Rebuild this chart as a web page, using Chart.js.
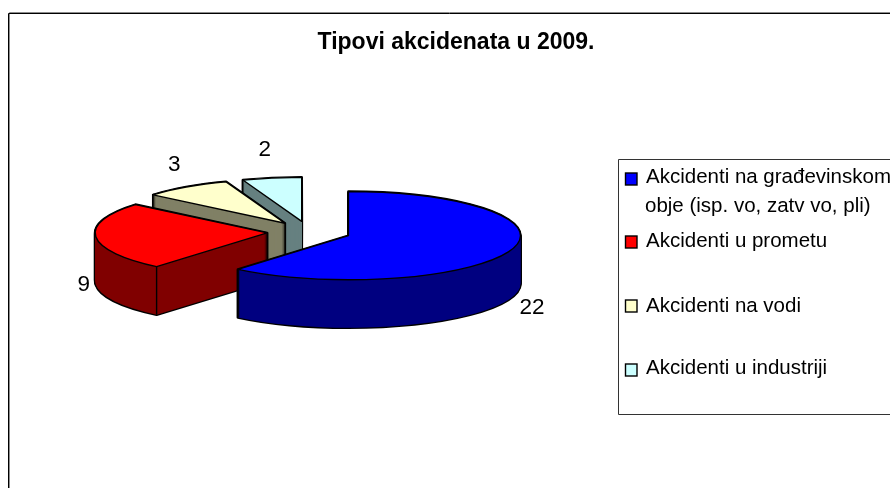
<!DOCTYPE html>
<html>
<head>
<meta charset="utf-8">
<style>html,body{margin:0;padding:0;background:#fff}#wrap{width:890px;height:488px;position:relative}</style>
<script src="https://cdn.jsdelivr.net/npm/chart.js@4/dist/chart.umd.min.js"></script>
</head>
<body>
<div id="wrap"><canvas id="c" width="890" height="488"></canvas></div>
<script>
const chartTitle = 'Tipovi akcidenata u 2009.';
const categories = [
  ['Akcidenti na građevinskom', 'obje (isp. vo, zatv vo, pli)'],
  'Akcidenti u prometu',
  'Akcidenti na vodi',
  'Akcidenti u industriji'
];
const accidents = [22, 9, 3, 2];

const topColors  = ['#0000FF', '#FF0000', '#FFFFCC', '#CCFFFF'];
const sideColors = ['#000080', '#800000', '#808066', '#668080'];

const FONT = '"Liberation Sans", Arial, sans-serif';
const view = { cx: 309, cy: 232, tilt: 0.256, depth: 48, explode: 42 };
const labelNudges = [[22, 57], [-12, 48], [-12, -22], [-7, -28]];
const legendBox = { left: 618.5, top: 159.5, bottom: 414.5, right: 900 };
const legendRows = [
  { swatchY: 173, baselines: [183, 212] },
  { swatchY: 236, baselines: [247] },
  { swatchY: 300, baselines: [312] },
  { swatchY: 364, baselines: [374] }
];

function sliceCenter(arc, dy) {
  const mid = (arc.startAngle + arc.endAngle) / 2;
  return {
    x: view.cx + Math.cos(mid) * view.explode,
    y: view.cy + Math.sin(mid) * view.explode * view.tilt + dy
  };
}

function slicePath(ctx, arc, dy) {
  const c = sliceCenter(arc, dy), r = arc.outerRadius;
  ctx.beginPath();
  ctx.moveTo(c.x, c.y);
  ctx.ellipse(c.x, c.y, r, r * view.tilt, 0, arc.startAngle, arc.endAngle);
  ctx.closePath();
  return c;
}

const pie3d = {
  id: 'pie3d',
  beforeDatasetsDraw(chart) {
    const ctx = chart.ctx, arcs = chart.getDatasetMeta(0).data, k = view.tilt, D = view.depth;
    const drawFace = (arc, dy) => {
      const c = sliceCenter(arc, dy);
      ctx.save();
      ctx.translate(c.x, c.y);
      ctx.scale(1, k);
      ctx.translate(-arc.x, -arc.y);
      arc.draw(ctx);
      ctx.restore();
    };
    for (let i = arcs.length - 1; i >= 0; i--) {
      const arc = arcs[i], base = arc.options;
      // silhouette of the extruded slice
      ctx.save();
      ctx.strokeStyle = '#000'; ctx.lineWidth = 2.6; ctx.lineJoin = 'round';
      for (let d = D; d >= 0; d--) { slicePath(ctx, arc, d); ctx.stroke(); }
      ctx.restore();
      // side wall
      arc.options = Object.assign({}, base, { backgroundColor: sideColors[i], borderWidth: 0 });
      for (let d = D; d >= 0; d--) drawFace(arc, d);
      // front corner edges
      const c = sliceCenter(arc, 0), r = arc.outerRadius;
      [arc.startAngle, arc.endAngle].forEach(a => {
        if (Math.sin(a) > 0) {
          const px = c.x + Math.cos(a) * r, py = c.y + Math.sin(a) * r * k;
          ctx.save(); ctx.strokeStyle = '#000'; ctx.lineWidth = 1.4;
          ctx.beginPath(); ctx.moveTo(px, py); ctx.lineTo(px, py + D); ctx.stroke(); ctx.restore();
        }
      });
      // top face
      arc.options = base;
      drawFace(arc, 0);
      ctx.save();
      ctx.strokeStyle = '#000'; ctx.lineWidth = 1.4; ctx.lineJoin = 'round';
      slicePath(ctx, arc, 0); ctx.stroke();
      ctx.restore();
    }
    // value labels
    ctx.save();
    ctx.fillStyle = '#000'; ctx.font = '22.5px ' + FONT;
    ctx.textAlign = 'center'; ctx.textBaseline = 'middle';
    arcs.forEach((arc, i) => {
      const mid = (arc.startAngle + arc.endAngle) / 2, c = sliceCenter(arc, 0);
      const x = c.x + Math.cos(mid) * arc.outerRadius + labelNudges[i][0];
      const y = c.y + Math.sin(mid) * arc.outerRadius * k + labelNudges[i][1];
      ctx.fillText(String(chart.data.datasets[0].data[i]), x, y);
    });
    ctx.restore();
    return false;
  },
  beforeDraw(chart) {
    const ctx = chart.ctx;
    ctx.save();
    ctx.fillStyle = '#fff'; ctx.fillRect(0, 0, chart.width, chart.height);
    ctx.strokeStyle = '#8c8c8c'; ctx.lineWidth = 1;
    ctx.beginPath(); ctx.moveTo(9.5, 488); ctx.lineTo(9.5, 12.5); ctx.lineTo(890, 12.5); ctx.stroke();
    ctx.strokeStyle = '#000';
    ctx.beginPath(); ctx.moveTo(8.5, 488); ctx.lineTo(8.5, 13.5); ctx.lineTo(890, 13.5); ctx.stroke();
    ctx.restore();
  },
  afterDraw(chart) {
    const ctx = chart.ctx;
    ctx.save();
    ctx.strokeStyle = '#333'; ctx.lineWidth = 1;
    ctx.beginPath();
    ctx.moveTo(legendBox.right, legendBox.top);
    ctx.lineTo(legendBox.left, legendBox.top);
    ctx.lineTo(legendBox.left, legendBox.bottom);
    ctx.lineTo(legendBox.right, legendBox.bottom);
    ctx.stroke();
    ctx.font = '20.5px ' + FONT;
    ctx.textAlign = 'left'; ctx.textBaseline = 'alphabetic';
    chart.data.labels.forEach((label, i) => {
      const row = legendRows[i];
      ctx.fillStyle = topColors[i]; ctx.strokeStyle = '#000'; ctx.lineWidth = 1.4;
      ctx.fillRect(625.5, row.swatchY, 11.5, 12);
      ctx.strokeRect(625.5, row.swatchY, 11.5, 12);
      ctx.fillStyle = '#000';
      const lines = Array.isArray(label) ? label : [label];
      lines.forEach((t, j) => ctx.fillText(t, j === 0 ? 646 : 645, row.baselines[j]));
    });
    ctx.restore();
  }
};

new Chart(document.getElementById('c'), {
  type: 'pie',
  plugins: [pie3d],
  data: {
    labels: categories,
    datasets: [{
      data: accidents,
      backgroundColor: topColors,
      borderWidth: 0,
      radius: 172
    }]
  },
  options: {
    responsive: false,
    animation: false,
    layout: { padding: { left: 22 } },
    plugins: {
      legend: { display: false },
      tooltip: { enabled: false },
      title: {
        display: true,
        text: chartTitle,
        color: '#000',
        font: { family: FONT, size: 23, weight: 'bold' },
        padding: { top: 29, bottom: 8 }
      }
    }
  }
});
</script>
</body>
</html>
